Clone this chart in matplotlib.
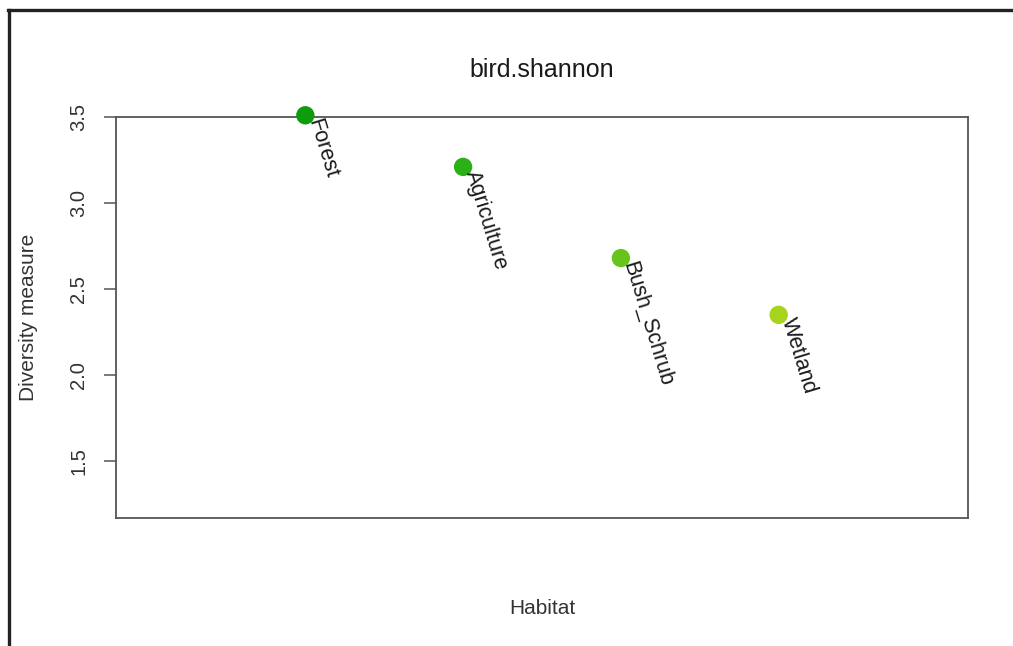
import matplotlib
matplotlib.use("Agg")
import matplotlib.pyplot as plt
from matplotlib.lines import Line2D

plt.rcParams['font.family'] = ['Liberation Sans', 'DejaVu Sans']

# Shannon diversity of birds by habitat
habitats = ["Forest", "Agriculture", "Bush_Schrub", "Wetland"]
positions = [1, 2, 3, 4]
shannon = [3.51, 3.21, 2.68, 2.35]
point_colors = ["#0c9c0c", "#2cb018", "#66c41a", "#a6d41c"]
yticks = [1.5, 2.0, 2.5, 3.0, 3.5]

W, H = 1013, 646
fig = plt.figure(figsize=(W / 100, H / 100), dpi=100)
fig.patch.set_facecolor("white")

ax = fig.add_axes([116 / W, 1 - 518 / H, (968 - 116) / W, (518 - 117) / H])

ax.scatter(positions, shannon, s=175, c=point_colors, zorder=3,
           edgecolors="none", clip_on=False)
for x, y, name in zip(positions, shannon, habitats):
    ax.annotate(name, (x, y), xytext=(8, -4), textcoords="offset pixels",
                rotation=-73, rotation_mode="anchor", ha="left", va="center",
                fontsize=15.5, color="#1a1a1a", annotation_clip=False)

ax.set_xlim(-0.2, 5.2)
ax.set_ylim(1.169, 3.5)
ax.set_xticks([])
ax.set_yticks(yticks)
ax.set_yticklabels([f"{v:.1f}" for v in yticks], rotation=90, va="center",
                   fontsize=14.5, color="#333333")
ax.tick_params(axis="y", length=9, width=1.1, color="#555555", pad=11)

for sp in ax.spines.values():
    sp.set_color("#555555")
    sp.set_linewidth(1.3)

ax.set_title("bird.shannon", fontsize=18, color="#1a1a1a", y=1.097, va="center")
ax.set_xlabel("Habitat", fontsize=15, color="#333333", va="center")
ax.xaxis.set_label_coords(0.5, (518 - 608) / 401)
ax.set_ylabel("Diversity measure", fontsize=15, color="#333333", va="center")
ax.yaxis.set_label_coords((28 - 116) / 852, 0.5)

# outer frame lines along the top and left edges
fig.add_artist(Line2D([8 / W, 1.0], [1 - 10 / H, 1 - 10 / H],
                      transform=fig.transFigure, color="#222222", linewidth=2.4))
fig.add_artist(Line2D([9 / W, 9 / W], [0, 1 - 10 / H],
                      transform=fig.transFigure, color="#222222", linewidth=2.4))

fig.savefig("out.png", dpi=100, facecolor="white")
